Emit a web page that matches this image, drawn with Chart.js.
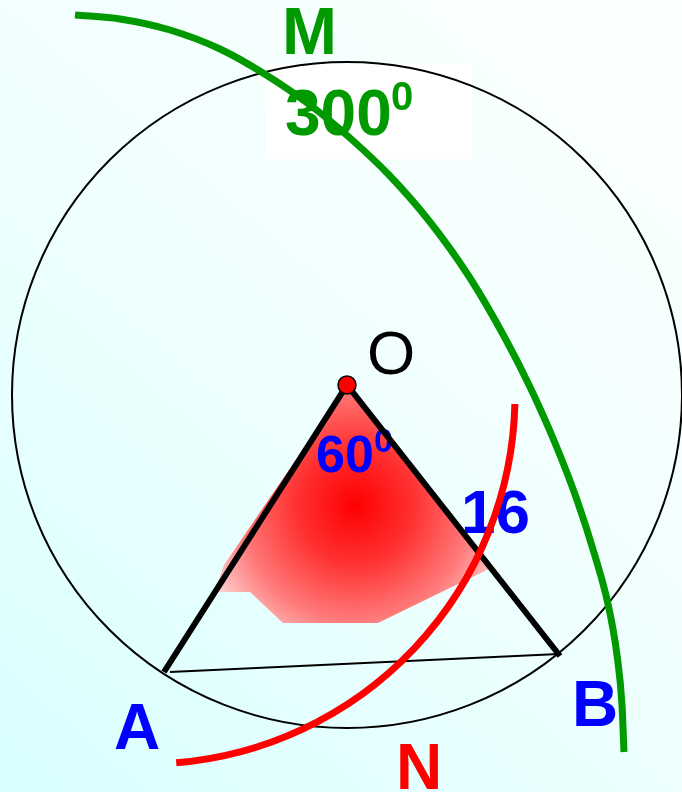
<!DOCTYPE html>
<html>
<head>
<meta charset="utf-8">
<title>Central angle 60</title>
<style>
  html, body { margin: 0; padding: 0; }
  #wrap { width: 682px; height: 792px; position: relative; }
</style>
</head>
<body>
<div id="wrap"><canvas id="myChart"></canvas></div>
<script src="https://cdn.jsdelivr.net/npm/chart.js"></script>
<script>
// --- diagram data, in picture units (x right, y down) ---
var circleCenter = [347, 395];
var circleRadii = [335, 333];
var pointO = [347, 385];
var pointA = [164, 672];
var pointB = [560, 656];
var chordAB = [[170, 672], [559, 654]];

// big green arc (M, 300 degrees), read along its length
var arcM = [[75,15],[120,19],[170,30],[220,49],[263,73],[310,105],[350,138],[390,176],
            [430,222],[470,278],[505,338],[530,387],[555,443],[577,500],[595,556],
            [608,604],[617,655],[622,705],[624,752]];
// red arc (N): circle centre, radius, start and end angle in degrees
var arcNCenter = [146, 395];
var arcNRadius = 369;
var arcNAngles = [1.4, 85.3];
// shaded sector inside the angle
var sector = [[347,385],[224,565],[214,592],[250,592],[283,623],[378,623],[491,568],[347,385]];

var labelText = ['M', '300', '0', 'O', '60', '0', '16', 'A', 'B', 'N'];

function pts(arr) {
  return arr.map(function (p) { return { x: p[0], y: p[1] }; });
}

var GREEN = '#009900', BLUE = '#0000ff', RED = '#ff0000';

// where each label goes: ink left, baseline, font, colour
var labelStyle = [
  { x: 286, y: 54,  font: 'bold 66px "Liberation Sans"', color: GREEN },
  { x: 286, y: 135, font: 'bold 64px "Liberation Sans"', color: GREEN },
  { x: 392, y: 110, font: 'bold 40px "Liberation Sans"', color: GREEN },
  { x: 369, y: 374, font: '62px "Liberation Sans"', color: '#000' },
  { x: 317, y: 472, font: 'bold 52px "Liberation Sans"', color: BLUE },
  { x: 375, y: 452, font: 'bold 34px "Liberation Sans"', color: BLUE },
  { x: 464, y: 533, font: 'bold 62px "Liberation Sans"', color: BLUE },
  { x: 115, y: 749, font: 'bold 64px "Liberation Sans"', color: BLUE },
  { x: 576, y: 726, font: 'bold 64px "Liberation Sans"', color: BLUE },
  { x: 400, y: 789, font: 'bold 64px "Liberation Sans"', color: RED }
];

var diagramPlugin = {
  id: 'diagram',
  beforeDraw: function (chart) {
    var ctx = chart.ctx, xs = chart.scales.x, ys = chart.scales.y;
    ctx.save();
    var g = ctx.createLinearGradient(0, chart.height, chart.width, 0);
    g.addColorStop(0, '#d9ffff');
    g.addColorStop(0.5, '#effffe');
    g.addColorStop(1, '#fdffff');
    ctx.fillStyle = g;
    ctx.fillRect(0, 0, chart.width, chart.height);
    // white box behind the 300 label
    ctx.fillStyle = '#ffffff';
    ctx.fillRect(xs.getPixelForValue(265), ys.getPixelForValue(64),
                 xs.getPixelForValue(472) - xs.getPixelForValue(265),
                 ys.getPixelForValue(159) - ys.getPixelForValue(64));
    ctx.restore();
  },
  beforeDatasetsDraw: function (chart) {
    var ctx = chart.ctx, xs = chart.scales.x, ys = chart.scales.y;
    var cx = xs.getPixelForValue(circleCenter[0]);
    var cy = ys.getPixelForValue(circleCenter[1]);
    var rx = xs.getPixelForValue(circleCenter[0] + circleRadii[0]) - cx;
    var ry = ys.getPixelForValue(circleCenter[1] + circleRadii[1]) - cy;
    ctx.save();
    ctx.beginPath();
    ctx.ellipse(cx, cy, rx, ry, 0, 0, Math.PI * 2);
    ctx.lineWidth = 2;
    ctx.strokeStyle = '#000';
    ctx.stroke();
    ctx.restore();
  },
  afterDatasetDraw: function (chart, args) {
    if (args.index !== 0) return;
    var ctx = chart.ctx, xs = chart.scales.x, ys = chart.scales.y;
    ctx.save();
    ctx.textAlign = 'left';
    ctx.textBaseline = 'alphabetic';
    labelText.forEach(function (t, i) {
      var s = labelStyle[i];
      ctx.font = s.font;
      ctx.fillStyle = s.color;
      var m = ctx.measureText(t);
      ctx.fillText(t, xs.getPixelForValue(s.x) + m.actualBoundingBoxLeft, ys.getPixelForValue(s.y));
    });
    ctx.restore();
  },
  afterDatasetsDraw: function (chart) {
    var ctx = chart.ctx, xs = chart.scales.x, ys = chart.scales.y;
    var cx = xs.getPixelForValue(arcNCenter[0]);
    var cy = ys.getPixelForValue(arcNCenter[1]);
    var r = xs.getPixelForValue(arcNCenter[0] + arcNRadius) - cx;
    ctx.save();
    ctx.beginPath();
    ctx.arc(cx, cy, r, arcNAngles[0] * Math.PI / 180, arcNAngles[1] * Math.PI / 180);
    ctx.lineWidth = 7;
    ctx.lineCap = 'butt';
    ctx.strokeStyle = RED;
    ctx.stroke();
    ctx.restore();
  }
};

function sectorFill(context) {
  var chart = context.chart;
  var xs = chart.scales.x, ys = chart.scales.y;
  var cx = xs ? xs.getPixelForValue(355) : NaN, cy = ys ? ys.getPixelForValue(505) : NaN;
  if (!isFinite(cx) || !isFinite(cy)) return '#ff5050';
  var g = chart.ctx.createRadialGradient(cx, cy, 0, cx, cy, 165);
  g.addColorStop(0, '#ff0000');
  g.addColorStop(0.35, '#ff3030');
  g.addColorStop(0.7, '#ff7a7a');
  g.addColorStop(1, '#ffd8d8');
  return g;
}

var ctx = document.getElementById('myChart').getContext('2d');
var chart = new Chart(ctx, {
  type: 'scatter',
  data: {
    datasets: [
      { // 0: shaded sector
        data: pts(sector), showLine: true, fill: 'shape', borderWidth: 0,
        borderColor: 'rgba(0,0,0,0)', backgroundColor: sectorFill,
        pointRadius: 0, tension: 0, order: 10
      },
      { // 1: chord AB
        data: pts(chordAB), showLine: true, borderColor: '#000', borderWidth: 2,
        pointRadius: 0, tension: 0, order: 6
      },
      { // 2: OA and OB
        data: pts([pointA, pointO, pointB]), showLine: true, borderColor: '#000', borderWidth: 6,
        borderJoinStyle: 'miter', pointRadius: 0, tension: 0, order: 5
      },
      { // 3: green arc
        data: pts(arcM), showLine: true, borderColor: GREEN, borderWidth: 7,
        pointRadius: 0, cubicInterpolationMode: 'monotone', order: 4
      },
      { // 4: centre O
        data: pts([pointO]), pointRadius: 9, pointBackgroundColor: RED,
        pointBorderColor: '#000', pointBorderWidth: 1.5, order: 1
      }
    ]
  },
  options: {
    responsive: true,
    maintainAspectRatio: false,
    animation: false,
    layout: { padding: 0, autoPadding: false },
    clip: false,
    plugins: { legend: { display: false }, tooltip: { enabled: false } },
    scales: {
      x: { type: 'linear', min: 0, max: 682, display: false },
      y: { type: 'linear', min: 0, max: 792, reverse: true, display: false }
    }
  },
  plugins: [diagramPlugin]
});
</script>
</body>
</html>
